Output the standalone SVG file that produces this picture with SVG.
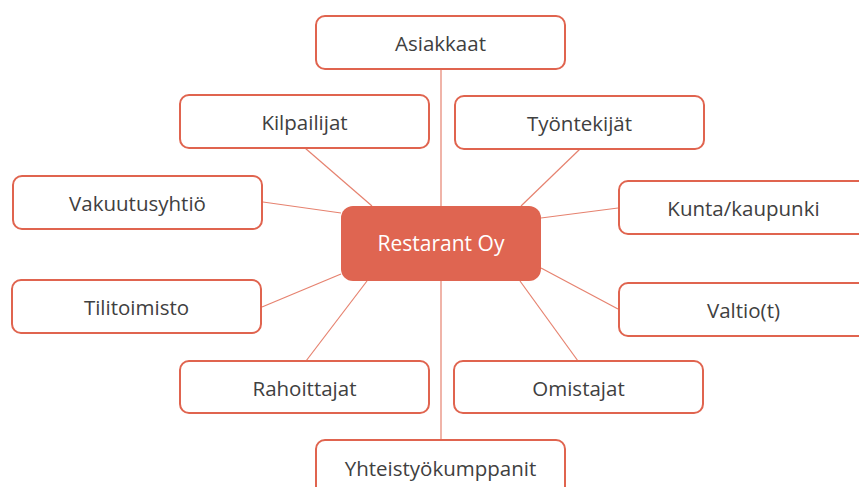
<svg xmlns="http://www.w3.org/2000/svg" width="859" height="487" viewBox="0 0 859 487">
<style>
.n rect{fill:#fff;stroke:#E0644F;stroke-width:2}
.n text{font-family:"Open Sans","Noto Sans","Liberation Sans",sans-serif;font-size:20.5px;fill:#404040;text-anchor:middle}
.c line{stroke:#E6826F;stroke-width:1.2}
#center rect{fill:#DF6551;stroke:none}
#center text{font-family:"Open Sans","Noto Sans","Liberation Sans",sans-serif;font-size:21px;fill:#fff;text-anchor:middle}
</style>
<rect width="859" height="487" fill="#fff"/>
<g class="c" id="connectors">
<line x1="441" y1="70" x2="441" y2="206"/>
<line x1="305" y1="148" x2="372" y2="206"/>
<line x1="580" y1="149" x2="521" y2="206"/>
<line x1="263" y1="202" x2="341" y2="213"/>
<line x1="618" y1="208" x2="541" y2="218"/>
<line x1="262" y1="307" x2="341" y2="274"/>
<line x1="618" y1="309" x2="541" y2="268"/>
<line x1="306" y1="361" x2="367" y2="281"/>
<line x1="578" y1="361" x2="520" y2="281"/>
<line x1="441" y1="281" x2="441" y2="440"/>
</g>
<g class="n" id="asiakkaat"><rect x="316" y="16" width="249" height="53" rx="9"/><text x="440.5" y="50.5">Asiakkaat</text></g>
<g class="n" id="kilpailijat"><rect x="180" y="95" width="249" height="53" rx="9"/><text x="304.5" y="129.5">Kilpailijat</text></g>
<g class="n" id="tyontekijat"><rect x="455" y="96" width="249" height="53" rx="9"/><text x="579.5" y="130.5">Työntekijät</text></g>
<g class="n" id="vakuutusyhtio"><rect x="13" y="176" width="249" height="53" rx="9"/><text x="137.5" y="210.5">Vakuutusyhtiö</text></g>
<g class="n" id="kunta"><rect x="619" y="181" width="249" height="53" rx="9"/><text x="743.5" y="215.5">Kunta/kaupunki</text></g>
<g class="n" id="tilitoimisto"><rect x="12" y="280" width="249" height="53" rx="9"/><text x="136.5" y="314.5">Tilitoimisto</text></g>
<g class="n" id="valtio"><rect x="619" y="283" width="249" height="53" rx="9"/><text x="743.5" y="317.5">Valtio(t)</text></g>
<g class="n" id="rahoittajat"><rect x="180" y="361" width="249" height="52" rx="9"/><text x="304.5" y="395.5">Rahoittajat</text></g>
<g class="n" id="omistajat"><rect x="454" y="361" width="249" height="52" rx="9"/><text x="578.5" y="395.5">Omistajat</text></g>
<g class="n" id="yhteistyo"><rect x="316" y="440" width="249" height="60" rx="9"/><text x="440.5" y="475.5">Yhteistyökumppanit</text></g>
<g id="center"><rect x="341" y="206" width="200" height="75" rx="12"/><text x="441" y="251">Restarant Oy</text></g>
</svg>
